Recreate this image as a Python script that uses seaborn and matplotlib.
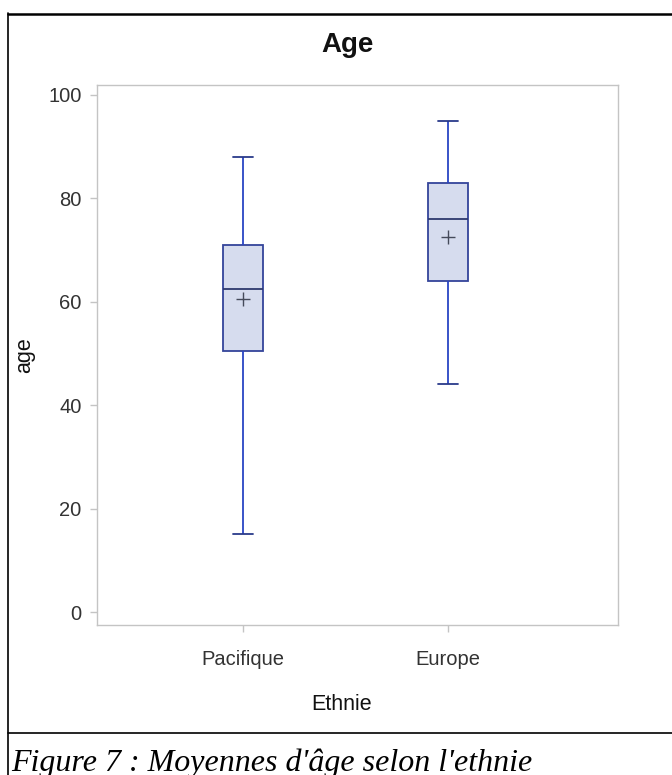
import matplotlib
matplotlib.use("Agg")
import matplotlib.pyplot as plt
from matplotlib.lines import Line2D
import seaborn as sns
import pandas as pd

# Five-number summaries and means of age per ethnic group
groups = ["Pacifique", "Europe"]
age_min = [15, 44]
age_q1 = [50.5, 64]
age_median = [62.5, 76]
age_q3 = [71, 83]
age_max = [88, 95]
age_mean = [60.5, 72.5]
y_ticks = [0, 20, 40, 60, 80, 100]

rows = []
for i, g in enumerate(groups):
    for v in (age_min[i], age_q1[i], age_median[i], age_q3[i], age_max[i]):
        rows.append({"Ethnie": g, "age": v})
df = pd.DataFrame(rows)
means = pd.DataFrame({"Ethnie": groups, "age": age_mean})

sns.set_theme(style="white")
plt.rcParams["font.family"] = ["Liberation Sans", "DejaVu Sans"]

W, H = 672, 775
fig = plt.figure(figsize=(W / 100, H / 100), dpi=100)
ax = fig.add_axes([97 / W, 1 - 625 / H, (618 - 97) / W, (625 - 85) / H])

box_edge = "#34449a"
whisker_col = "#2a45c4"
sns.boxplot(data=df, x="Ethnie", y="age", order=groups, ax=ax,
            whis=(0, 100), width=0.195, color="#d6dcee",
            linecolor=box_edge, linewidth=1.3,
            boxprops=dict(facecolor="#d6dcee", edgecolor=box_edge),
            whiskerprops=dict(color=whisker_col, linewidth=1.3),
            capprops=dict(color="#2a3a8a", linewidth=1.3),
            medianprops=dict(color="#2e3a6e", linewidth=1.3))

sns.scatterplot(data=means, x="Ethnie", y="age", ax=ax, marker="+",
                s=110, color="#454a5a", linewidth=1.0, zorder=5, legend=False)

ax.set_xlim(-0.712, 1.829)
ax.set_ylim(-2.5, 101.9)
ax.set_yticks(y_ticks)
ax.set_yticklabels([str(t) for t in y_ticks])

for s in ax.spines.values():
    s.set_color("#c4c4c4")
    s.set_linewidth(1.0)
ax.tick_params(axis="both", which="both", direction="out", length=5,
               width=1, color="#c4c4c4", labelsize=14.5, labelcolor="#333333",
               left=True, bottom=True)
ax.tick_params(axis="x", pad=13)
ax.tick_params(axis="y", pad=6)
ax.set_xlabel("")
ax.set_ylabel("")

fig.text(347 / W, 1 - 45 / H, "Age", ha="center", va="center",
         fontsize=20, fontweight="bold", color="#111111")
fig.text(25 / W, 1 - 355 / H, "age", ha="center", va="center",
         rotation=90, fontsize=15.5, color="#111111")
fig.text(342 / W, 1 - 704 / H, "Ethnie", ha="center", va="center",
         fontsize=15.5, color="#111111")

# Document frame around the figure and the caption rule
fig.add_artist(Line2D([8 / W, 8 / W], [0, 1 - 13 / H], transform=fig.transFigure,
                      color="black", linewidth=1.2))
fig.add_artist(Line2D([8 / W, 1], [1 - 13.5 / H, 1 - 13.5 / H], transform=fig.transFigure,
                      color="black", linewidth=1.8))
fig.add_artist(Line2D([8 / W, 1], [1 - 733 / H, 1 - 733 / H], transform=fig.transFigure,
                      color="black", linewidth=1.2))
fig.text(11 / W, 1 - 771 / H, "Figure 7 : Moyennes d'âge selon l'ethnie",
         ha="left", va="baseline", fontsize=23, style="italic",
         family=["Liberation Serif", "DejaVu Serif"], color="black")

fig.savefig("out.png", dpi=100, facecolor="white")
